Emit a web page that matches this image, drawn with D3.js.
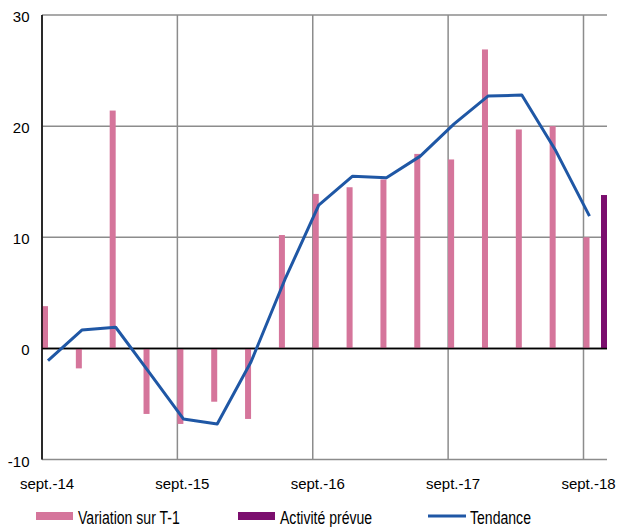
<!DOCTYPE html>
<html>
<head>
<meta charset="utf-8">
<script src="https://cdn.jsdelivr.net/npm/d3@7"></script>
<style>
  body { margin: 0; background: #fff; }
  svg { display: block; font-family: Arial, "Liberation Sans", sans-serif; }
</style>
</head>
<body>
<svg id="chart"></svg>
<script>
// Data
const quarters = ["sept.-14", "déc.-14", "mars-15", "juin-15", "sept.-15", "déc.-15", "mars-16", "juin-16",
  "sept.-16", "déc.-16", "mars-17", "juin-17", "sept.-17", "déc.-17", "mars-18", "juin-18", "sept.-18"];
const variation = [3.8, -1.8, 21.4, -5.9, -6.8, -4.8, -6.35, 10.2, 13.9, 14.5, 15.2, 17.5, 17.0, 26.9, 19.7, 20.0, 10.0];
const activitePrevue = [null, null, null, null, null, null, null, null, null, null, null, null, null, null, null, null, 13.8];
const tendance = [-1.1, 1.65, 1.9, -2.2, -6.35, -6.8, -1.2, 6.2, 12.9, 15.5, 15.35, 17.3, 20.2, 22.7, 22.8, 17.8, 11.9];
const yTicks = [-10, 0, 10, 20, 30];
const xTickLabels = ["sept.-14", "sept.-15", "sept.-16", "sept.-17", "sept.-18"];

const width = 620;
const height = 527;
const margin = { top: 15, right: 13, bottom: 67.5, left: 42 };

const pink = "#d5759b";
const purple = "#7b0e6e";
const blue = "#1f57a5";

const svg = d3.select("#chart")
    .attr("width", width)
    .attr("height", height);

// quarter index -> x position of the quarter's gridline
const x = d3.scaleLinear()
    .domain([0, quarters.length - 1])
    .range([margin.left, 583.5]);

const y = d3.scaleLinear()
    .domain([-10, 30])
    .range([height - margin.bottom, margin.top]);

const plotRight = width - margin.right;

// horizontal gridlines
svg.append("g")
    .selectAll("line")
    .data(yTicks)
    .join("line")
    .attr("x1", margin.left)
    .attr("x2", plotRight)
    .attr("y1", d => y(d))
    .attr("y2", d => y(d))
    .attr("stroke", d => d === 0 ? "#000" : "#8c8c8c")
    .attr("stroke-width", 1.5);

// vertical gridlines at each September
svg.append("g")
    .selectAll("line")
    .data(xTickLabels)
    .join("line")
    .attr("x1", d => x(quarters.indexOf(d)))
    .attr("x2", d => x(quarters.indexOf(d)))
    .attr("y1", y(30))
    .attr("y2", y(-10))
    .attr("stroke", "#8c8c8c")
    .attr("stroke-width", 1.5);

// bars
const barW = 6;
svg.append("g")
    .selectAll("rect")
    .data(variation)
    .join("rect")
    .attr("x", (d, i) => x(i))
    .attr("width", barW)
    .attr("y", d => y(Math.max(0, d)))
    .attr("height", d => Math.abs(y(d) - y(0)))
    .attr("fill", pink);

svg.append("g")
    .selectAll("rect")
    .data(activitePrevue.map((v, i) => ({ v, i })).filter(d => d.v !== null))
    .join("rect")
    .attr("x", d => x(d.i) + 17.5)
    .attr("width", barW)
    .attr("y", d => y(Math.max(0, d.v)))
    .attr("height", d => Math.abs(y(d.v) - y(0)))
    .attr("fill", purple);

// zero line over bars
svg.append("line")
    .attr("x1", margin.left)
    .attr("x2", plotRight)
    .attr("y1", y(0))
    .attr("y2", y(0))
    .attr("stroke", "#000")
    .attr("stroke-width", 1.5);

// left axis
svg.append("line")
    .attr("x1", margin.left)
    .attr("x2", margin.left)
    .attr("y1", y(30))
    .attr("y2", y(-10))
    .attr("stroke", "#000")
    .attr("stroke-width", 1.5);

// trend line
const line = d3.line()
    .x((d, i) => x(i) + 6)
    .y(d => y(d));

svg.append("path")
    .datum(tendance)
    .attr("d", line)
    .attr("fill", "none")
    .attr("stroke", blue)
    .attr("stroke-width", 3)
    .attr("stroke-linejoin", "round");

// y labels
svg.append("g")
    .selectAll("text")
    .data(yTicks)
    .join("text")
    .attr("x", 29.5)
    .attr("y", d => y(d) + 7)
    .attr("text-anchor", "end")
    .style("font-size", "15px")
    .text(d => d);

// x labels
svg.append("g")
    .selectAll("text")
    .data(xTickLabels)
    .join("text")
    .attr("x", d => x(quarters.indexOf(d)) + 5)
    .attr("y", 489)
    .attr("text-anchor", "middle")
    .style("font-size", "15px")
    .text(d => d);

// legend
const legend = [
  { label: "Variation sur T-1", type: "rect", color: pink, x: 36 },
  { label: "Activité prévue", type: "rect", color: purple, x: 238 },
  { label: "Tendance", type: "line", color: blue, x: 428 }
];

const lg = svg.append("g")
    .selectAll("g")
    .data(legend)
    .join("g")
    .attr("transform", d => `translate(${d.x},516)`);

lg.filter(d => d.type === "rect").append("rect")
    .attr("x", 0)
    .attr("y", -4)
    .attr("width", 37)
    .attr("height", 8)
    .attr("fill", d => d.color);

lg.filter(d => d.type === "line").append("line")
    .attr("x1", 0)
    .attr("x2", 38)
    .attr("y1", 0)
    .attr("y2", 0)
    .attr("stroke", d => d.color)
    .attr("stroke-width", 3);

lg.append("text")
    .attr("transform", d => `translate(${d.type === "line" ? 42 : 42},7.5) scale(0.76,1)`)
    .style("font-size", "18.5px")
    .text(d => d.label);
</script>
</body>
</html>
